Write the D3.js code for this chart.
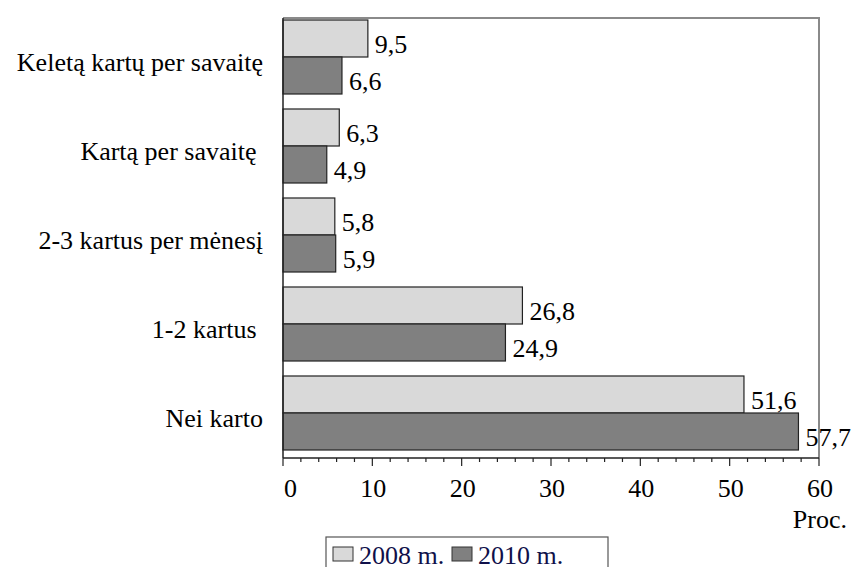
<!DOCTYPE html>
<html><head><meta charset="utf-8">
<script src="https://cdn.jsdelivr.net/npm/d3@7"></script>
<style>body{margin:0;background:#fff}svg{display:block}</style>
</head><body><svg id="c" width="853" height="567"></svg>
<script>
const categories = ["Keletą kartų per savaitę","Kartą per savaitę ","2-3 kartus per mėnesį","1-2 kartus ","Nei karto"];
const series = ["2008 m.","2010 m."];
const values2008 = [9.5,6.3,5.8,26.8,51.6];
const values2010 = [6.6,4.9,5.9,24.9,57.7];
const xTicks = [0,10,20,30,40,50,60];
const colors = ["#d9d9d9","#808080"];

const svg = d3.select("#c");
const L=283,R=819,T=18,B=458;
const x = d3.scaleLinear().domain([0,60]).range([L,R]);
const y = d3.scaleBand().domain(categories).range([12.5,457.5]).paddingInner(0.1685).paddingOuter(0.08425);
const sub = d3.scaleBand().domain(series).range([0,y.bandwidth()]);
const fmt = v => d3.format(".1f")(v).replace(".",",");
const txt = (sel)=>sel.style("font","26px 'Liberation Serif'").attr("fill","#000");

// frame top/right
svg.append("path").attr("d",`M${L},${T}H${R}V${B}`).attr("fill","none").attr("stroke","#8a8a8a").attr("stroke-width",2);

const data = categories.map((c,i)=>({c, vals:[values2008[i],values2010[i]]}));
const g = svg.append("g");
data.forEach(d=>{
  d.vals.forEach((v,j)=>{
    g.append("rect").attr("x",x(0)).attr("y",y(d.c)+sub(series[j])).attr("width",x(v)-x(0)).attr("height",sub.bandwidth())
      .attr("fill",colors[j]).attr("stroke","#222").attr("stroke-width",1.2);
    g.append("text").attr("x",x(v)+7).attr("y",y(d.c)+sub(series[j])+sub.bandwidth()-4)
      .call(txt).text(fmt(v));
  });
});

// category labels
categories.forEach(c=>{
  svg.append("text").attr("x",263).attr("y",y(c)+y.bandwidth()/2+14).attr("text-anchor","end")
    .call(txt).style("white-space","pre").text(c);
});

// left axis line
svg.append("line").attr("x1",L).attr("x2",L).attr("y1",T).attr("y2",B).attr("stroke","#222").attr("stroke-width",1.5);

// bottom axis
const ax = svg.append("g").attr("transform",`translate(0,${B})`);
ax.append("line").attr("x1",L).attr("x2",R).attr("stroke","#222").attr("stroke-width",1.5);
d3.range(0,61,2).forEach(v=>{
  const major = v%10===0;
  ax.append("line").attr("x1",x(v)).attr("x2",x(v)).attr("y1",0).attr("y2",major?8:4).attr("stroke","#222").attr("stroke-width",1.2);
});
xTicks.forEach(v=>{
  ax.append("text").attr("x",x(v)+14).attr("y",39).attr("text-anchor","end").call(txt).text(v);
});
svg.append("text").attr("x",847).attr("y",528).attr("text-anchor","end").call(txt).text("Proc.");

// legend
const lg = svg.append("g");
lg.append("rect").attr("x",326).attr("y",537).attr("width",282).attr("height",40).attr("fill","#fff").attr("stroke","#555").attr("stroke-width",1.2);
const lx=[333,452];
series.forEach((s,j)=>{
  lg.append("rect").attr("x",lx[j]).attr("y",547).attr("width",20).attr("height",14).attr("fill",colors[j]).attr("stroke","#333").attr("stroke-width",1);
  lg.append("text").attr("x",lx[j]+26).attr("y",564).call(txt).attr("fill","#10104a").text(s);
});
</script></body></html>
